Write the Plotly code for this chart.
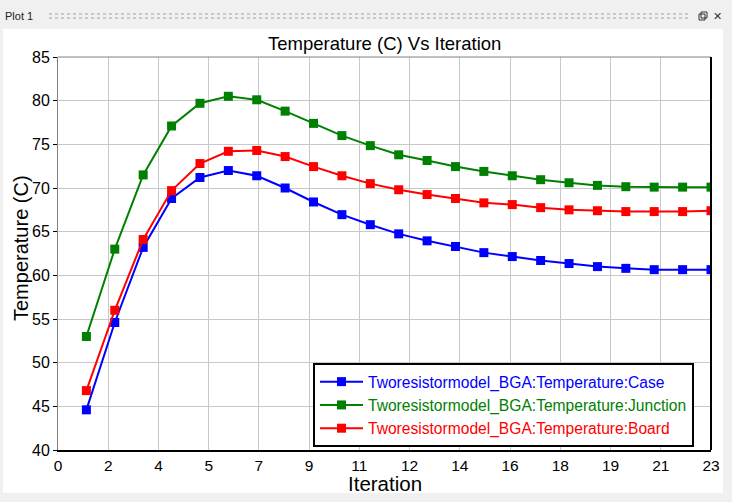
import plotly.graph_objects as go

iterations = list(range(1, 24))
case_temp = [44.6, 54.6, 63.2, 68.8, 71.2, 72.0, 71.4, 70.0, 68.4, 66.95, 65.8, 64.75,
             63.95, 63.3, 62.6, 62.15, 61.7, 61.35, 61.0, 60.8, 60.65, 60.65, 60.65]
junction_temp = [53.0, 63.0, 71.5, 77.1, 79.7, 80.5, 80.1, 78.8, 77.4, 76.0, 74.85, 73.8,
                 73.15, 72.45, 71.9, 71.4, 70.95, 70.6, 70.3, 70.15, 70.1, 70.1, 70.1]
board_temp = [46.8, 56.0, 64.1, 69.7, 72.8, 74.2, 74.3, 73.6, 72.45, 71.4, 70.5, 69.8,
              69.25, 68.8, 68.3, 68.1, 67.75, 67.5, 67.4, 67.3, 67.3, 67.3, 67.4]
series_names = ["Tworesistormodel_BGA:Temperature:Case",
                "Tworesistormodel_BGA:Temperature:Junction",
                "Tworesistormodel_BGA:Temperature:Board"]
series_colors = ["#0000ff", "#008000", "#ff0000"]
x_tick_labels = ["0", "2", "4", "5", "7", "9", "11", "12", "14", "16", "18", "19", "21", "23"]
y_tick_values = [40, 45, 50, 55, 60, 65, 70, 75, 80, 85]

FONT = "Liberation Sans, Arial, sans-serif"
W, H = 732, 502
L, R, T, B = 58, 711, 57, 450


def px(x):
    return (x - L) / (R - L)


def py(y):
    return (B - y) / (B - T)


fig = go.Figure()
for vals, name, col in zip([case_temp, junction_temp, board_temp], series_names, series_colors):
    fig.add_trace(go.Scatter(
        x=iterations, y=vals, mode="lines+markers",
        name=f"<span style='color:{col}'>{name}</span>",
        line=dict(color=col, width=2),
        marker=dict(symbol="square", size=9, color=col),
    ))

n = len(x_tick_labels) - 1
x_tick_vals = [i * 23 / n for i in range(n + 1)]

shapes = [
    dict(type="rect", xref="paper", yref="paper", x0=px(3), x1=px(723), y0=py(493), y1=py(29),
         fillcolor="white", line=dict(width=0), layer="below"),
    dict(type="line", xref="paper", yref="paper", x0=0, x1=1, y0=1, y1=1,
         line=dict(color="#808080", width=1)),
    dict(type="line", xref="paper", yref="paper", x0=1, x1=1, y0=0, y1=1,
         line=dict(color="black", width=2)),
    dict(type="line", xref="paper", yref="paper", x0=px(49), x1=px(688), y0=py(14), y1=py(14),
         line=dict(color="#a0a0a0", width=1, dash="dot")),
    dict(type="line", xref="paper", yref="paper", x0=px(49), x1=px(688), y0=py(18), y1=py(18),
         line=dict(color="#a0a0a0", width=1, dash="dot")),
    dict(type="rect", xref="paper", yref="paper", x0=px(699), x1=px(705), y0=py(20), y1=py(14),
         fillcolor="#f0f0f0", line=dict(color="#333333", width=1)),
    dict(type="rect", xref="paper", yref="paper", x0=px(701), x1=px(707), y0=py(18), y1=py(12),
         line=dict(color="#333333", width=1)),
]

annotations = [
    dict(text="Plot 1", xref="paper", yref="paper", x=px(3), y=py(16), xanchor="left",
         yanchor="middle", showarrow=False, font=dict(family=FONT, size=11, color="#222222")),
    dict(text="✕", xref="paper", yref="paper", x=px(717), y=py(16), xanchor="center",
         yanchor="middle", showarrow=False, font=dict(family="DejaVu Sans", size=11, color="#333333")),
    dict(text="Temperature (C) Vs Iteration", xref="paper", yref="paper", x=0.5, y=py(43),
         xanchor="center", yanchor="middle", showarrow=False,
         font=dict(family=FONT, size=18.5, color="black")),
    dict(text="Iteration", xref="paper", yref="paper", x=0.5, y=py(483),
         xanchor="center", yanchor="middle", showarrow=False,
         font=dict(family=FONT, size=20.5, color="black")),
    dict(text="Temperature (C)", xref="paper", yref="paper", x=px(21), y=py(248),
         xanchor="center", yanchor="middle", showarrow=False, textangle=-90,
         font=dict(family=FONT, size=20, color="black")),
]

fig.update_layout(
    width=W, height=H,
    margin=dict(l=L, r=W - R, t=T, b=H - B, pad=0),
    paper_bgcolor="#f0f0f0", plot_bgcolor="white",
    font=dict(family=FONT, color="black"),
    showlegend=True,
    legend=dict(x=px(313), y=py(363), xanchor="left", yanchor="top",
                bgcolor="white", bordercolor="black", borderwidth=2,
                font=dict(family=FONT, size=15.6), tracegroupgap=0, itemwidth=43),
    xaxis=dict(range=[0, 23], tickvals=x_tick_vals, ticktext=x_tick_labels,
               showgrid=True, gridcolor="#c8c8c8", gridwidth=1, zeroline=False,
               showline=True, linecolor="black", linewidth=2, ticks="",
               tickfont=dict(family=FONT, size=15.5, color="black")),
    yaxis=dict(range=[40, 85], tickvals=y_tick_values,
               showgrid=True, gridcolor="#c8c8c8", gridwidth=1, zeroline=False,
               showline=True, linecolor="#808080", linewidth=1, ticks="outside",
               ticklen=4, tickcolor="black", tickfont=dict(family=FONT, size=16, color="black")),
    shapes=shapes, annotations=annotations,
)

fig.write_html("out.html", config={"displayModeBar": False},
               post_script="document.body.style.margin='0';document.body.style.overflow='hidden';")
